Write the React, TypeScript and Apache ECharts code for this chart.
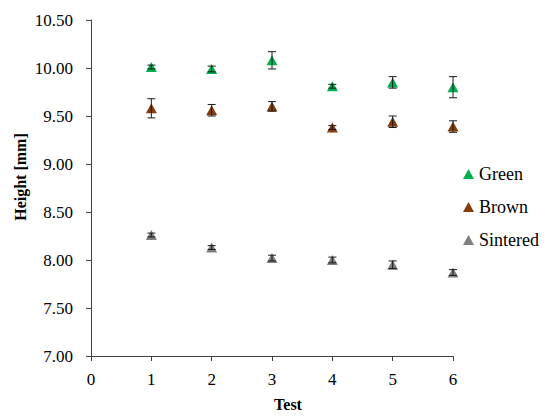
import React, { useEffect, useRef } from "react";
import * as echarts from "echarts";

const tests = [1, 2, 3, 4, 5, 6];
const greenValues = [10.01, 9.99, 10.08, 9.81, 9.85, 9.8];
const greenErrors = [0.02, 0.03, 0.09, 0.02, 0.06, 0.11];
const brownValues = [9.58, 9.56, 9.6, 9.38, 9.44, 9.39];
const brownErrors = [0.1, 0.06, 0.05, 0.02, 0.06, 0.06];
const sinteredValues = [8.26, 8.13, 8.02, 8.0, 7.95, 7.87];
const sinteredErrors = [0.02, 0.02, 0.03, 0.03, 0.04, 0.03];
const seriesNames = ["Green", "Brown", "Sintered"];
const colors = ["#00B050", "#843C0C", "#7F7F7F"];

const FONT = "Liberation Serif, serif";

function errorSeries(values: number[], errors: number[]) {
  return {
    type: "custom",
    z: 5,
    silent: true,
    data: tests.map((t, i) => [t, values[i], errors[i]]),
    renderItem: (params: any, api: any) => {
      const x = api.value(0);
      const y = api.value(1);
      const e = api.value(2);
      const top = api.coord([x, y + e]);
      const bot = api.coord([x, y - e]);
      const hw = 4;
      const style = { stroke: "#1a1a1a", lineWidth: 1 };
      return {
        type: "group",
        children: [
          { type: "line", shape: { x1: top[0], y1: top[1], x2: bot[0], y2: bot[1] }, style },
          { type: "line", shape: { x1: top[0] - hw, y1: top[1], x2: top[0] + hw, y2: top[1] }, style },
          { type: "line", shape: { x1: bot[0] - hw, y1: bot[1], x2: bot[0] + hw, y2: bot[1] }, style },
        ],
      };
    },
  };
}

function scatter(name: string, values: number[], color: string) {
  return {
    name,
    type: "scatter",
    symbol: "triangle",
    symbolSize: [11, 10],
    z: 3,
    itemStyle: { color, opacity: 1 },
    data: tests.map((t, i) => [t, values[i]]),
  };
}

export default function App() {
  const ref = useRef<HTMLDivElement>(null);
  useEffect(() => {
    if (!ref.current) return;
    const chart = echarts.init(ref.current, null, { renderer: "svg" });
    const axisLine = { show: true, lineStyle: { color: "#404040", width: 1 } };
    chart.setOption({
      animation: false,
      backgroundColor: "#ffffff",
      textStyle: { fontFamily: FONT },
      grid: { left: 91, top: 20, width: 362, height: 336 },
      xAxis: {
        type: "value",
        min: 0,
        max: 6,
        interval: 1,
        axisLine: { ...axisLine, onZero: false },
        axisTick: { show: true, inside: false, length: 5, lineStyle: { color: "#404040" } },
        splitLine: { show: false },
        axisLabel: { fontFamily: FONT, fontSize: 17, color: "#000", margin: 15 },
      },
      yAxis: {
        type: "value",
        min: 7,
        max: 10.5,
        interval: 0.5,
        axisLine,
        axisTick: { show: true, inside: false, length: 5, lineStyle: { color: "#404040" } },
        splitLine: { show: false },
        axisLabel: {
          fontFamily: FONT,
          fontSize: 17,
          color: "#000",
          margin: 18,
          formatter: (v: number) => v.toFixed(2),
        },
      },
      legend: {
        data: seriesNames.map((n, i) => ({ name: n, icon: "triangle", itemStyle: { color: colors[i] } })),
        orient: "vertical",
        left: 458,
        top: 160,
        itemWidth: 11,
        itemHeight: 10,
        itemGap: 15,
        textStyle: { fontFamily: FONT, fontSize: 18, color: "#000" },
      },
      graphic: [
        {
          type: "text",
          x: 288,
          y: 404,
          style: {
            text: "Test",
            fontFamily: FONT,
            fontSize: 16,
            fontWeight: "bold",
            fill: "#000",
            align: "center",
            verticalAlign: "middle",
          },
        },
        {
          type: "text",
          x: 20,
          y: 177,
          rotation: Math.PI / 2,
          style: {
            text: "Height [mm]",
            fontFamily: FONT,
            fontSize: 16,
            fontWeight: "bold",
            fill: "#000",
            align: "center",
            verticalAlign: "middle",
          },
        },
      ],
      series: [
        scatter(seriesNames[0], greenValues, colors[0]),
        scatter(seriesNames[1], brownValues, colors[1]),
        scatter(seriesNames[2], sinteredValues, colors[2]),
        errorSeries(greenValues, greenErrors),
        errorSeries(brownValues, brownErrors),
        errorSeries(sinteredValues, sinteredErrors),
      ],
    });
    return () => chart.dispose();
  }, []);
  return (
    <div
      ref={ref}
      style={{ position: "fixed", left: 0, top: 0, width: 550, height: 419 }}
    />
  );
}
